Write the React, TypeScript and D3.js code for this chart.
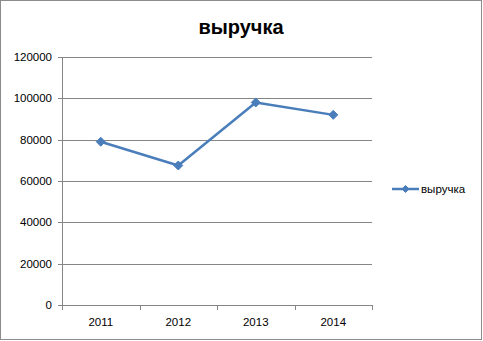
import React from "react";
import * as d3 from "d3";

const categories = ["2011", "2012", "2013", "2014"];
const revenue = [79000, 67500, 98000, 92000];
const yTicks = [0, 20000, 40000, 60000, 80000, 100000, 120000];
const seriesName = "выручка";
const title = "выручка";

const W = 483;
const H = 341;
const plot = { left: 62, right: 372, top: 57, bottom: 305 };
const color = "#4A7EBB";
const gridColor = "#868686";
const font = "'Liberation Sans', Arial, sans-serif";

export default function App() {
  const x = d3
    .scaleBand<string>()
    .domain(categories)
    .range([plot.left, plot.right])
    .padding(0);
  const y = d3.scaleLinear().domain([0, 120000]).range([plot.bottom, plot.top]);
  const line = d3
    .line<number>()
    .x((_, i) => (x(categories[i]) as number) + x.bandwidth() / 2)
    .y((d) => y(d));
  const diamond = (cx: number, cy: number, r: number) =>
    `M${cx},${cy - r}L${cx + r},${cy}L${cx},${cy + r}L${cx - r},${cy}Z`;
  const boundaries = [...categories.map((c) => x(c) as number), plot.right];

  return (
    <svg
      width={W}
      height={H}
      style={{ position: "absolute", left: 0, top: 0, background: "#fff" }}
    >
      <rect x={0.5} y={0.5} width={481} height={339} fill="#fff" stroke="#8c8c8c" />
      <text
        x={241}
        y={34}
        textAnchor="middle"
        fontFamily={font}
        fontWeight="bold"
        fontSize={20}
        fill="#000"
      >
        {title}
      </text>
      {yTicks.map((t) => (
        <g key={t}>
          <line
            x1={plot.left - 4}
            x2={plot.right}
            y1={Math.round(y(t)) + 0.5}
            y2={Math.round(y(t)) + 0.5}
            stroke={gridColor}
          />
          <text
            x={52}
            y={Math.round(y(t)) + 4}
            textAnchor="end"
            fontFamily={font}
            fontSize={11.5}
            fill="#000"
          >
            {t}
          </text>
        </g>
      ))}
      <line
        x1={plot.left + 0.5}
        x2={plot.left + 0.5}
        y1={plot.top}
        y2={plot.bottom + 4}
        stroke={gridColor}
      />
      {boundaries.map((b, i) => (
        <line
          key={i}
          x1={Math.round(b) + 0.5}
          x2={Math.round(b) + 0.5}
          y1={plot.bottom}
          y2={plot.bottom + 5}
          stroke={gridColor}
        />
      ))}
      {categories.map((c) => (
        <text
          key={c}
          x={(x(c) as number) + x.bandwidth() / 2}
          y={326}
          textAnchor="middle"
          fontFamily={font}
          fontSize={11.5}
          fill="#000"
        >
          {c}
        </text>
      ))}
      <path d={line(revenue) || ""} fill="none" stroke={color} strokeWidth={2.5} strokeLinejoin="round" />
      {revenue.map((v, i) => (
        <path
          key={i}
          d={diamond((x(categories[i]) as number) + x.bandwidth() / 2, y(v), 4.5)}
          fill={color}
          stroke={color}
        />
      ))}
      <line x1={392} x2={419} y1={189} y2={189} stroke={color} strokeWidth={2.5} />
      <path d={diamond(405.5, 189, 3.5)} fill={color} stroke={color} />
      <text x={421} y={193} fontFamily={font} fontSize={11.5} fill="#000">
        {seriesName}
      </text>
    </svg>
  );
}
